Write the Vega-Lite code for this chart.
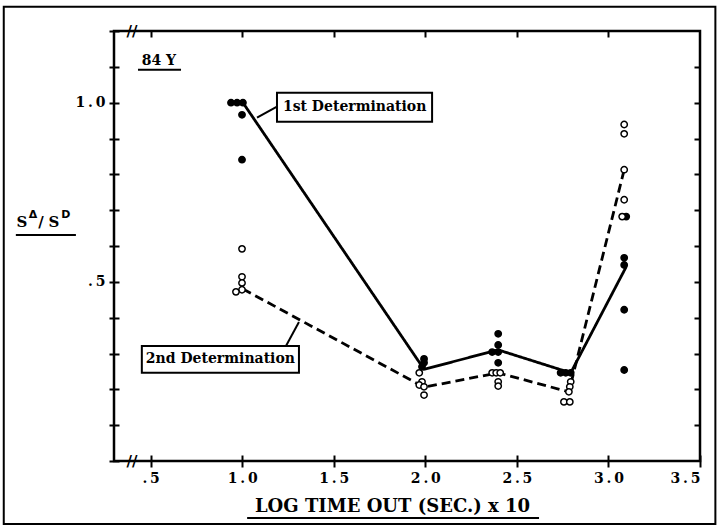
{
  "$schema": "https://vega.github.io/schema/vega-lite/v6.json",
  "width": 586,
  "height": 430,
  "autosize": "none",
  "padding": {"left": 114, "top": 31, "right": 19, "bottom": 67},
  "background": "white",
  "config": {
    "view": {"stroke": "black", "strokeWidth": 2.5},
    "font": "DejaVu Serif",
    "axis": {
      "domain": false,
      "grid": false,
      "tickColor": "black",
      "tickWidth": 2,
      "labelColor": "black",
      "labelFont": "DejaVu Serif",
      "labelFontWeight": "bold",
      "labelFontSize": 14,
      "titleColor": "black"
    }
  },
  "datasets": {
    "lines": [
      {"series": "1st", "x": 1.004, "y": 1.0},
      {"series": "1st", "x": 1.993, "y": 0.256},
      {"series": "1st", "x": 2.398, "y": 0.31},
      {"series": "1st", "x": 2.794, "y": 0.246},
      {"series": "1st", "x": 3.097, "y": 0.542},
      {"series": "2nd", "x": 1.004, "y": 0.48},
      {"series": "2nd", "x": 1.993, "y": 0.206},
      {"series": "2nd", "x": 2.398, "y": 0.246},
      {"series": "2nd", "x": 2.784, "y": 0.193},
      {"series": "2nd", "x": 3.086, "y": 0.813}
    ],
    "points": [
      {"series": "1st", "x": 0.939, "y": 1.0},
      {"series": "1st", "x": 0.972, "y": 1.0},
      {"series": "1st", "x": 1.004, "y": 1.0},
      {"series": "1st", "x": 0.999, "y": 0.966},
      {"series": "1st", "x": 0.999, "y": 0.841},
      {"series": "1st", "x": 1.993, "y": 0.285},
      {"series": "1st", "x": 1.993, "y": 0.274},
      {"series": "1st", "x": 1.982, "y": 0.263},
      {"series": "1st", "x": 2.398, "y": 0.355},
      {"series": "1st", "x": 2.398, "y": 0.324},
      {"series": "1st", "x": 2.365, "y": 0.304},
      {"series": "1st", "x": 2.398, "y": 0.304},
      {"series": "1st", "x": 2.398, "y": 0.274},
      {"series": "1st", "x": 2.739, "y": 0.246},
      {"series": "1st", "x": 2.767, "y": 0.246},
      {"series": "1st", "x": 2.794, "y": 0.246},
      {"series": "1st", "x": 3.097, "y": 0.682},
      {"series": "1st", "x": 3.086, "y": 0.567},
      {"series": "1st", "x": 3.086, "y": 0.547},
      {"series": "1st", "x": 3.086, "y": 0.422},
      {"series": "1st", "x": 3.086, "y": 0.254},
      {"series": "2nd", "x": 0.999, "y": 0.592},
      {"series": "2nd", "x": 0.999, "y": 0.514},
      {"series": "2nd", "x": 0.999, "y": 0.497},
      {"series": "2nd", "x": 0.999, "y": 0.478},
      {"series": "2nd", "x": 0.966, "y": 0.472},
      {"series": "2nd", "x": 1.967, "y": 0.246},
      {"series": "2nd", "x": 1.982, "y": 0.221},
      {"series": "2nd", "x": 1.967, "y": 0.212},
      {"series": "2nd", "x": 1.993, "y": 0.207},
      {"series": "2nd", "x": 1.993, "y": 0.184},
      {"series": "2nd", "x": 2.365, "y": 0.246},
      {"series": "2nd", "x": 2.387, "y": 0.246},
      {"series": "2nd", "x": 2.409, "y": 0.246},
      {"series": "2nd", "x": 2.398, "y": 0.221},
      {"series": "2nd", "x": 2.398, "y": 0.209},
      {"series": "2nd", "x": 2.794, "y": 0.221},
      {"series": "2nd", "x": 2.789, "y": 0.207},
      {"series": "2nd", "x": 2.784, "y": 0.193},
      {"series": "2nd", "x": 2.757, "y": 0.165},
      {"series": "2nd", "x": 2.789, "y": 0.165},
      {"series": "2nd", "x": 3.086, "y": 0.939},
      {"series": "2nd", "x": 3.086, "y": 0.913},
      {"series": "2nd", "x": 3.086, "y": 0.813},
      {"series": "2nd", "x": 3.086, "y": 0.729},
      {"series": "2nd", "x": 3.075, "y": 0.682}
    ],
    "boxes": [
      {"label": "1st Determination", "x": 1.19, "x2": 2.037, "y": 1.028, "y2": 0.947, "tx": 1.614, "ty": 0.987},
      {"label": "2nd Determination", "x": 0.452, "x2": 1.31, "y": 0.321, "y2": 0.246, "tx": 0.881, "ty": 0.284}
    ],
    "leaders": [
      {"x": 1.081, "y": 0.958, "x2": 1.19, "y2": 0.989},
      {"x": 1.239, "y": 0.321, "x2": 1.31, "y2": 0.388}
    ],
    "underlines": [
      {"x": 0.431, "x2": 0.666, "y": 1.092},
      {"x": 1.027, "x2": 2.621, "y": -0.159},
      {"x": -0.236, "x2": 0.092, "y": 0.631}
    ],
    "breaks": [
      {"x": 0.398, "y": 0, "t": "//"},
      {"x": 0.398, "y": 1.2, "t": "//"}
    ],
    "frame": [
      {"x": -0.302, "x2": 3.584, "y": 1.268, "y2": -0.176}
    ],
    "ymain": [
      {"t": "S", "x": -0.203, "y": 0.654},
      {"t": "/", "x": -0.099, "y": 0.654},
      {"t": "S", "x": -0.028, "y": 0.654}
    ],
    "ysup": [
      {"t": "Δ", "x": -0.143, "y": 0.679},
      {"t": "D", "x": 0.037, "y": 0.679}
    ],
    "note": [
      {"t": "84 Y", "x": 0.545, "y": 1.106}
    ]
  },
  "layer": [
    {
      "data": {"name": "lines"},
      "mark": {"type": "line", "color": "black", "strokeWidth": 2.8},
      "encoding": {
        "x": {
          "field": "x", "type": "quantitative",
          "scale": {"domain": [0.3, 3.5], "nice": false, "zero": false},
          "axis": {
            "orient": "bottom",
            "values": [0.5, 1, 1.5, 2, 2.5, 3, 3.5],
            "labelExpr": "datum.value == 0.5 ? '.\u20095' : replace(format(datum.value, '.1f'), '.', '\u2009.\u2009')",
            "tickSize": 12,
            "offset": -6,
            "labelPadding": 4,
            "title": "LOG TIME OUT (SEC.) x 10",
            "titleFont": "DejaVu Serif",
            "titleFontWeight": "bold",
            "titleFontSize": 18,
            "titleX": 278,
            "titleY": 56,
            "titleBaseline": "alphabetic",
            "titleAlign": "center",
            "titleAnchor": null
          }
        },
        "y": {
          "field": "y", "type": "quantitative",
          "scale": {"domain": [0, 1.2], "nice": false, "zero": false},
          "axis": {
            "orient": "left",
            "values": [0, 0.1, 0.2, 0.3, 0.4, 0.5, 0.6, 0.7, 0.8, 0.9, 1, 1.1, 1.2],
            "labelExpr": "datum.value == 1 ? '1\u2009.\u20090' : (datum.value == 0.5 ? '.\u20095' : '')",
            "tickSize": 10,
            "offset": -5,
            "labelPadding": 4,
            "title": null
          }
        },
        "strokeDash": {
          "field": "series", "type": "nominal",
          "scale": {"domain": ["1st", "2nd"], "range": [[1, 0], [9, 5]]},
          "legend": null
        }
      }
    },
    {
      "data": {"name": "points"},
      "mark": {"type": "point", "shape": "circle", "filled": true, "stroke": "black", "strokeWidth": 1.5, "size": 40, "opacity": 1},
      "encoding": {
        "x": {
          "field": "x", "type": "quantitative",
          "scale": {"domain": [0.3, 3.5], "nice": false, "zero": false},
          "axis": {
            "orient": "top",
            "values": [0.5, 1, 1.5, 2, 2.5, 3],
            "labels": false,
            "tickSize": 6,
            "offset": -6,
            "title": null
          }
        },
        "y": {
          "field": "y", "type": "quantitative",
          "scale": {"domain": [0, 1.2], "nice": false, "zero": false},
          "axis": {
            "orient": "right",
            "values": [0.1, 0.2, 0.3, 0.4, 0.5, 0.6, 0.7, 0.8, 0.9, 1, 1.1],
            "labels": false,
            "tickSize": 6,
            "offset": -6,
            "title": null
          }
        },
        "fill": {
          "field": "series", "type": "nominal",
          "scale": {"domain": ["1st", "2nd"], "range": ["black", "white"]},
          "legend": null
        }
      }
    },
    {
      "data": {"name": "leaders"},
      "mark": {"type": "rule", "color": "black", "strokeWidth": 2},
      "encoding": {
        "x": {"field": "x", "type": "quantitative", "scale": {"domain": [0.3, 3.5], "nice": false, "zero": false}, "axis": null},
        "y": {"field": "y", "type": "quantitative", "scale": {"domain": [0, 1.2], "nice": false, "zero": false}, "axis": null},
        "x2": {"field": "x2"},
        "y2": {"field": "y2"}
      }
    },
    {
      "data": {"name": "boxes"},
      "mark": {"type": "rect", "fill": "white", "stroke": "black", "strokeWidth": 2},
      "encoding": {
        "x": {"field": "x", "type": "quantitative", "scale": {"domain": [0.3, 3.5], "nice": false, "zero": false}, "axis": null},
        "y": {"field": "y", "type": "quantitative", "scale": {"domain": [0, 1.2], "nice": false, "zero": false}, "axis": null},
        "x2": {"field": "x2"},
        "y2": {"field": "y2"}
      }
    },
    {
      "data": {"name": "boxes"},
      "mark": {"type": "text", "font": "DejaVu Serif", "fontWeight": "bold", "fontSize": 14, "color": "black", "align": "center", "baseline": "middle"},
      "encoding": {
        "x": {"field": "tx", "type": "quantitative", "scale": {"domain": [0.3, 3.5], "nice": false, "zero": false}, "axis": null},
        "y": {"field": "ty", "type": "quantitative", "scale": {"domain": [0, 1.2], "nice": false, "zero": false}, "axis": null},
        "text": {"field": "label"}
      }
    },
    {
      "data": {"name": "underlines"},
      "mark": {"type": "rule", "color": "black", "strokeWidth": 2},
      "encoding": {
        "x": {"field": "x", "type": "quantitative", "scale": {"domain": [0.3, 3.5], "nice": false, "zero": false}, "axis": null},
        "y": {"field": "y", "type": "quantitative", "scale": {"domain": [0, 1.2], "nice": false, "zero": false}, "axis": null},
        "x2": {"field": "x2"}
      }
    },
    {
      "data": {"name": "frame"},
      "mark": {"type": "rect", "filled": false, "stroke": "black", "strokeWidth": 2},
      "encoding": {
        "x": {"field": "x", "type": "quantitative", "scale": {"domain": [0.3, 3.5], "nice": false, "zero": false}, "axis": null},
        "y": {"field": "y", "type": "quantitative", "scale": {"domain": [0, 1.2], "nice": false, "zero": false}, "axis": null},
        "x2": {"field": "x2"},
        "y2": {"field": "y2"}
      }
    },
    {
      "data": {"name": "breaks"},
      "mark": {"type": "text", "font": "DejaVu Serif", "fontWeight": "bold", "fontSize": 15, "color": "black", "align": "center", "baseline": "middle"},
      "encoding": {
        "x": {"field": "x", "type": "quantitative", "scale": {"domain": [0.3, 3.5], "nice": false, "zero": false}, "axis": null},
        "y": {"field": "y", "type": "quantitative", "scale": {"domain": [0, 1.2], "nice": false, "zero": false}, "axis": null},
        "text": {"field": "t"}
      }
    },
    {
      "data": {"name": "note"},
      "mark": {"type": "text", "font": "DejaVu Serif", "fontWeight": "bold", "fontSize": 14, "color": "black", "align": "center", "baseline": "alphabetic"},
      "encoding": {
        "x": {"field": "x", "type": "quantitative", "scale": {"domain": [0.3, 3.5], "nice": false, "zero": false}, "axis": null},
        "y": {"field": "y", "type": "quantitative", "scale": {"domain": [0, 1.2], "nice": false, "zero": false}, "axis": null},
        "text": {"field": "t"}
      }
    },
    {
      "data": {"name": "ymain"},
      "mark": {"type": "text", "font": "DejaVu Serif", "fontWeight": "bold", "fontSize": 15, "color": "black", "align": "center", "baseline": "alphabetic"},
      "encoding": {
        "x": {"field": "x", "type": "quantitative", "scale": {"domain": [0.3, 3.5], "nice": false, "zero": false}, "axis": null},
        "y": {"field": "y", "type": "quantitative", "scale": {"domain": [0, 1.2], "nice": false, "zero": false}, "axis": null},
        "text": {"field": "t"}
      }
    },
    {
      "data": {"name": "ysup"},
      "mark": {"type": "text", "font": "DejaVu Sans", "fontWeight": "bold", "fontSize": 11, "color": "black", "align": "center", "baseline": "alphabetic"},
      "encoding": {
        "x": {"field": "x", "type": "quantitative", "scale": {"domain": [0.3, 3.5], "nice": false, "zero": false}, "axis": null},
        "y": {"field": "y", "type": "quantitative", "scale": {"domain": [0, 1.2], "nice": false, "zero": false}, "axis": null},
        "text": {"field": "t"}
      }
    }
  ],
  "resolve": {"axis": {"x": "independent", "y": "independent"}}
}
